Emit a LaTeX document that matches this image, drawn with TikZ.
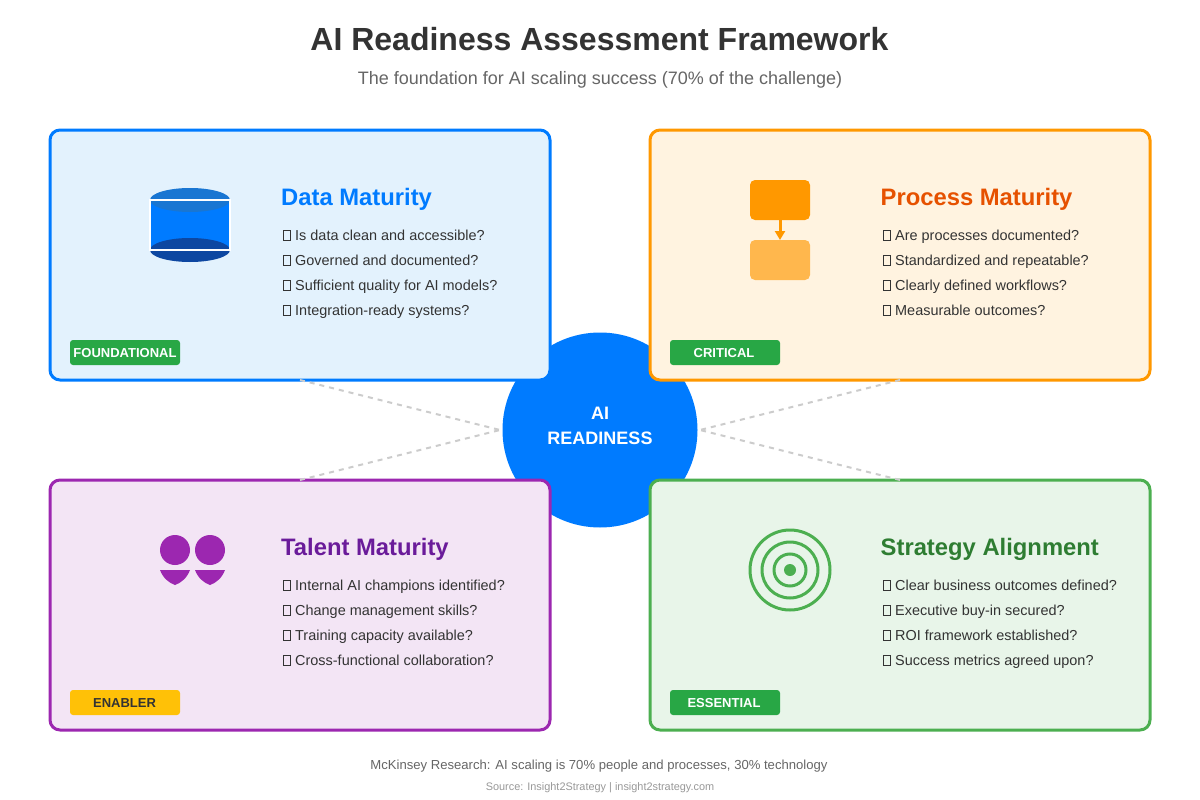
\documentclass[tikz,border=0pt]{standalone}
\usepackage{fontspec}
\setmainfont{Liberation Sans}
\usetikzlibrary{arrows.meta}
\definecolor{ink}{HTML}{333333}
\definecolor{subink}{HTML}{666666}
\definecolor{faint}{HTML}{999999}
\definecolor{bluemain}{HTML}{007BFF}
\definecolor{bluefill}{HTML}{E3F2FD}
\definecolor{bluetop}{HTML}{1976D2}
\definecolor{bluelow}{HTML}{0D47A1}
\definecolor{orangemain}{HTML}{FF9800}
\definecolor{orangefill}{HTML}{FFF3E0}
\definecolor{orangelight}{HTML}{FFB74D}
\definecolor{orangetitle}{HTML}{E65100}
\definecolor{purplemain}{HTML}{9C27B0}
\definecolor{purplefill}{HTML}{F3E5F5}
\definecolor{purpletitle}{HTML}{6A1B9A}
\definecolor{greenmain}{HTML}{4CAF50}
\definecolor{greenfill}{HTML}{E8F5E9}
\definecolor{greentitle}{HTML}{2E7D32}
\definecolor{badgegreen}{HTML}{28A745}
\definecolor{badgeyellow}{HTML}{FFC107}
\definecolor{linkgrey}{HTML}{CCCCCC}
\newcommand{\fsz}[2]{\fontsize{#1pt}{#2pt}\selectfont}
\newcommand{\tofu}{\makebox[13pt][l]{\hspace{1pt}{\fboxsep=0pt\fboxrule=0.7pt\color{ink}\fbox{\rule{0pt}{9.5pt}\rule{6.5pt}{0pt}}}}}
\tikzset{
  card/.style={draw=#1,line width=3pt,rounded corners=10pt,minimum width=500pt,minimum height=250pt,inner sep=0pt,outer sep=0pt},
  cardtitle/.style={anchor=base west,inner sep=0pt,font=\bfseries\fsz{23.8}{28},text=#1},
  item/.style={anchor=base west,inner sep=0pt,font=\fsz{14.45}{17},text=ink},
  badge/.style={fill=#1,rounded corners=3pt,minimum width=110pt,minimum height=25pt,inner sep=0pt,outer sep=0pt},
  badgetext/.style={inner sep=0pt,font=\bfseries\fsz{13}{15},anchor=base,text=#1},
  link/.style={draw=linkgrey,line width=2pt,dash pattern=on 5pt off 5pt},
  iconbox/.style={fill=#1,rounded corners=5pt,minimum width=60pt,minimum height=40pt,inner sep=0pt,outer sep=0pt},
  ring/.style={draw=greenmain,line width=3pt,fill=none}
}
\begin{document}
\begin{tikzpicture}[x=1pt,y=-1pt]
\path[use as bounding box,fill=white] (0,0) rectangle (1200,800);

\node[anchor=base,inner sep=0pt,font=\bfseries\fsz{32}{38},text=ink] (title) at (599.5,50.5) {AI Readiness Assessment Framework};
\node[anchor=base,inner sep=0pt,font=\fsz{18}{22},text=subink] (subtitle) at (600,84.5) {The foundation for AI scaling success (70\% of the challenge)};

\node[circle,fill=bluemain,minimum size=195pt,inner sep=0pt,outer sep=0pt] (hub) at (600,430) {};
\node[inner sep=0pt,align=center,font=\bfseries\fsz{18}{25},text=white] (hubtext) at (600,426) {AI\\READINESS};

\node[card=bluemain,fill=bluefill] (data) at (300,255) {};
\node[card=orangemain,fill=orangefill] (process) at (900,255) {};
\node[card=purplemain,fill=purplefill] (talent) at (300,605) {};
\node[card=greenmain,fill=greenfill] (strategy) at (900,605) {};

\coordinate (hubL) at (500,430);
\coordinate (hubR) at (700,430);
\draw[link] (data.south) -- (hubL);
\draw[link] (process.south) -- (hubR);
\draw[link] (talent.north) -- (hubL);
\draw[link] (strategy.north) -- (hubR);

% data icon
\fill[bluemain] (150,200) rectangle (230,250);
\fill[bluetop] (190,200) ellipse (40 and 12);
\fill[bluelow] (190,250) ellipse (40 and 12);
\draw[white,line width=2pt] (150,200) rectangle (230,250);

% process icon
\node[iconbox=orangemain] (stepA) at (780,200) {};
\node[iconbox=orangelight] (stepB) at (780,260) {};
\draw[orangemain,line width=3pt,-{Triangle[length=9pt,width=10pt]}] (stepA.south) -- (stepB.north);

% talent icon
\fill[purplemain] (175,550) circle (15);
\fill[purplemain] (210,550) circle (15);
\fill[purplemain] (160,570) .. controls (163,578) and (169,583) .. (175,585) .. controls (181,583) and (187,578) .. (190,570) -- cycle;
\fill[purplemain] (195,570) .. controls (198,578) and (204,583) .. (210,585) .. controls (216,583) and (222,578) .. (225,570) -- cycle;

% strategy icon
\draw[ring] (790,570) circle (40);
\draw[ring] (790,570) circle (28);
\draw[ring] (790,570) circle (16);
\fill[greenmain] (790,570) circle (6);

% data text
\node[cardtitle=bluemain] (t1) at (281,205) {Data Maturity};
\node[item] (a1) at (282,240) {\tofu Is data clean and accessible?};
\node[item] (a2) at (282,265) {\tofu Governed and documented?};
\node[item] (a3) at (282,290) {\tofu Sufficient quality for AI models?};
\node[item] (a4) at (282,315) {\tofu Integration-ready systems?};
\node[badge=badgegreen] (b1) at (125,352.5) {};
\node[badgetext=white] (b1t) at (125,357.5) {FOUNDATIONAL};

% process text
\node[cardtitle=orangetitle] (t2) at (880.5,205) {Process Maturity};
\node[item] (p1) at (882,240) {\tofu Are processes documented?};
\node[item] (p2) at (882,265) {\tofu Standardized and repeatable?};
\node[item] (p3) at (882,290) {\tofu Clearly defined workflows?};
\node[item] (p4) at (882,315) {\tofu Measurable outcomes?};
\node[badge=badgegreen] (b2) at (725,352.5) {};
\node[badgetext=white] (b2t) at (724,357.5) {CRITICAL};

% talent text
\node[cardtitle=purpletitle] (t3) at (281,555) {Talent Maturity};
\node[item] (c1) at (282,590) {\tofu Internal AI champions identified?};
\node[item] (c2) at (282,615) {\tofu Change management skills?};
\node[item] (c3) at (282,640) {\tofu Training capacity available?};
\node[item] (c4) at (282,665) {\tofu Cross-functional collaboration?};
\node[badge=badgeyellow] (b3) at (125,702.5) {};
\node[badgetext=ink] (b3t) at (124.5,707.5) {ENABLER};

% strategy text
\node[cardtitle=greentitle] (t4) at (880.5,555) {Strategy Alignment};
\node[item] (s1) at (882,590) {\tofu Clear business outcomes defined?};
\node[item] (s2) at (882,615) {\tofu Executive buy-in secured?};
\node[item] (s3) at (882,640) {\tofu ROI framework established?};
\node[item] (s4) at (882,665) {\tofu Success metrics agreed upon?};
\node[badge=badgegreen] (b4) at (725,702.5) {};
\node[badgetext=white] (b4t) at (724,707.5) {ESSENTIAL};

\node[anchor=base,inner sep=0pt,font=\fsz{13.1}{15},text=subink] (foot) at (599,769.5) {McKinsey Research: AI scaling is 70\% people and processes, 30\% technology};
\node[anchor=base,inner sep=0pt,font=\fsz{10.9}{13},text=faint] (source) at (600,790) {Source: Insight2Strategy | insight2strategy.com};
\end{tikzpicture}
\end{document}
